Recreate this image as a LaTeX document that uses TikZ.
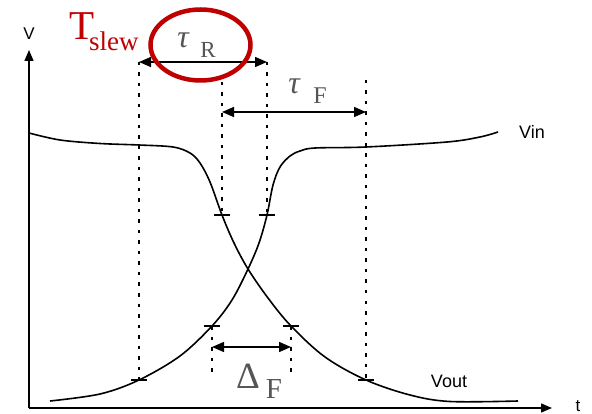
\documentclass[tikz,border=0pt]{standalone}
\usepackage{fontspec}
\setmainfont{Liberation Serif}
\newfontfamily\arialfont{Liberation Sans}
\usetikzlibrary{arrows.meta}
\definecolor{slewred}{RGB}{192,0,0}
\definecolor{lblgray}{RGB}{85,85,85}
\begin{document}
\begin{tikzpicture}[x=1pt,y=-1pt,
  axis/.style={line width=1.4pt,-{Triangle[length=11pt,width=9pt]}},
  curve/.style={line width=1.6pt,line join=round},
  guide/.style={line width=1.3pt,dash pattern=on 3.5pt off 7pt},
  tickmark/.style={line width=1.1pt},
  span/.style={line width=1.4pt,{Triangle[length=12pt,width=10pt]}-{Triangle[length=12pt,width=10pt]}},
  sanslbl/.style={font=\arialfont\fontsize{18}{20}\selectfont,inner sep=0pt},
  greek/.style={text=lblgray,inner sep=0pt,anchor=base}]
\useasboundingbox (0,0) rectangle (592,414);
% axes
\coordinate (O) at (29,408);
\coordinate (ytop) at (29,50);
\coordinate (xend) at (552,408);
\draw[axis] (O) -- (ytop);
\draw[axis] (O) -- (xend);
\node[sanslbl,font=\arialfont\fontsize{17}{19}\selectfont] (vlab) at (29,34) {V};
\node[sanslbl,font=\arialfont\fontsize{17}{19}\selectfont] (tlab) at (578,406) {t};
% curves
\draw[curve] plot[smooth,tension=0.55] coordinates {(29,133) (60,140) (100,143.5) (139,145) (173,147) (190,153) (200,163) (210,182) (222,215) (234,243) (248,269) (268,298) (291,326) (325,357) (366,380) (410,395) (450,401.5) (518,401)};
\draw[curve] plot[smooth,tension=0.55] coordinates {(50,401) (100,394) (139,380) (180,356) (212,326) (232,300) (248,269) (259,243) (267,215) (273,185) (280,167) (290,156) (300,151) (315,148) (366,147) (447,142) (480,137) (498,132)};
\node[sanslbl] (vin) at (532,132) {Vin};
\node[sanslbl] (vout) at (449,381) {Vout};
% marked points
\coordinate (p1) at (222,215);
\coordinate (p2) at (267,215);
\coordinate (p3) at (212,326);
\coordinate (p4) at (291,326);
\coordinate (p5) at (139,380);
\coordinate (p6) at (366,380);
\foreach \p in {p1,p2,p3,p4,p5,p6}
  \draw[tickmark] ([xshift=-8pt]\p) -- ([xshift=8pt]\p);
% guides
\coordinate (g5) at (139,62);
\coordinate (g1) at (222,82);
\coordinate (g2) at (267,62);
\coordinate (g6) at (366,80);
\coordinate (g3) at (212,374);
\coordinate (g4) at (291,374);
\draw[guide] (g5) -- (p5);
\draw[guide] (g1) -- (p1);
\draw[guide] (g2) -- (p2);
\draw[guide] (g6) -- (p6);
\draw[guide] (p3) -- (g3);
\draw[guide] (p4) -- (g4);
% spans
\coordinate (rA) at (139,62);
\coordinate (rB) at (267,62);
\coordinate (fA) at (222,112);
\coordinate (fB) at (366,112);
\coordinate (dA) at (212,347);
\coordinate (dB) at (291,347);
\draw[span] (rA) -- (rB);
\draw[span] (fA) -- (fB);
\draw[span] (dA) -- (dB);
% labels
\node[greek,font=\itshape\fontsize{32}{34}\selectfont] (tauR) at (183,48) {τ};
\node[greek,font=\fontsize{23}{25}\selectfont] (subR) at (208,58) {R};
\node[greek,font=\itshape\fontsize{32}{34}\selectfont] (tauF) at (294,94) {τ};
\node[greek,font=\fontsize{24}{26}\selectfont] (subF) at (320,104) {F};
\node[greek,font=\fontsize{37}{39}\selectfont] (delta) at (248,388) {Δ};
\node[greek,font=\fontsize{29}{31}\selectfont] (subD) at (274,398) {F};
% Tslew
\node[text=slewred,font=\fontsize{41}{43}\selectfont,inner sep=0pt,anchor=base west] (T) at (69,40) {T};
\node[text=slewred,font=\fontsize{27}{29}\selectfont,inner sep=0pt,anchor=base west] (slew) at (89,51) {slew};
\draw[slewred,line width=4.5pt] (200.5,45) ellipse [x radius=50, y radius=35.5];
\end{tikzpicture}
\end{document}
